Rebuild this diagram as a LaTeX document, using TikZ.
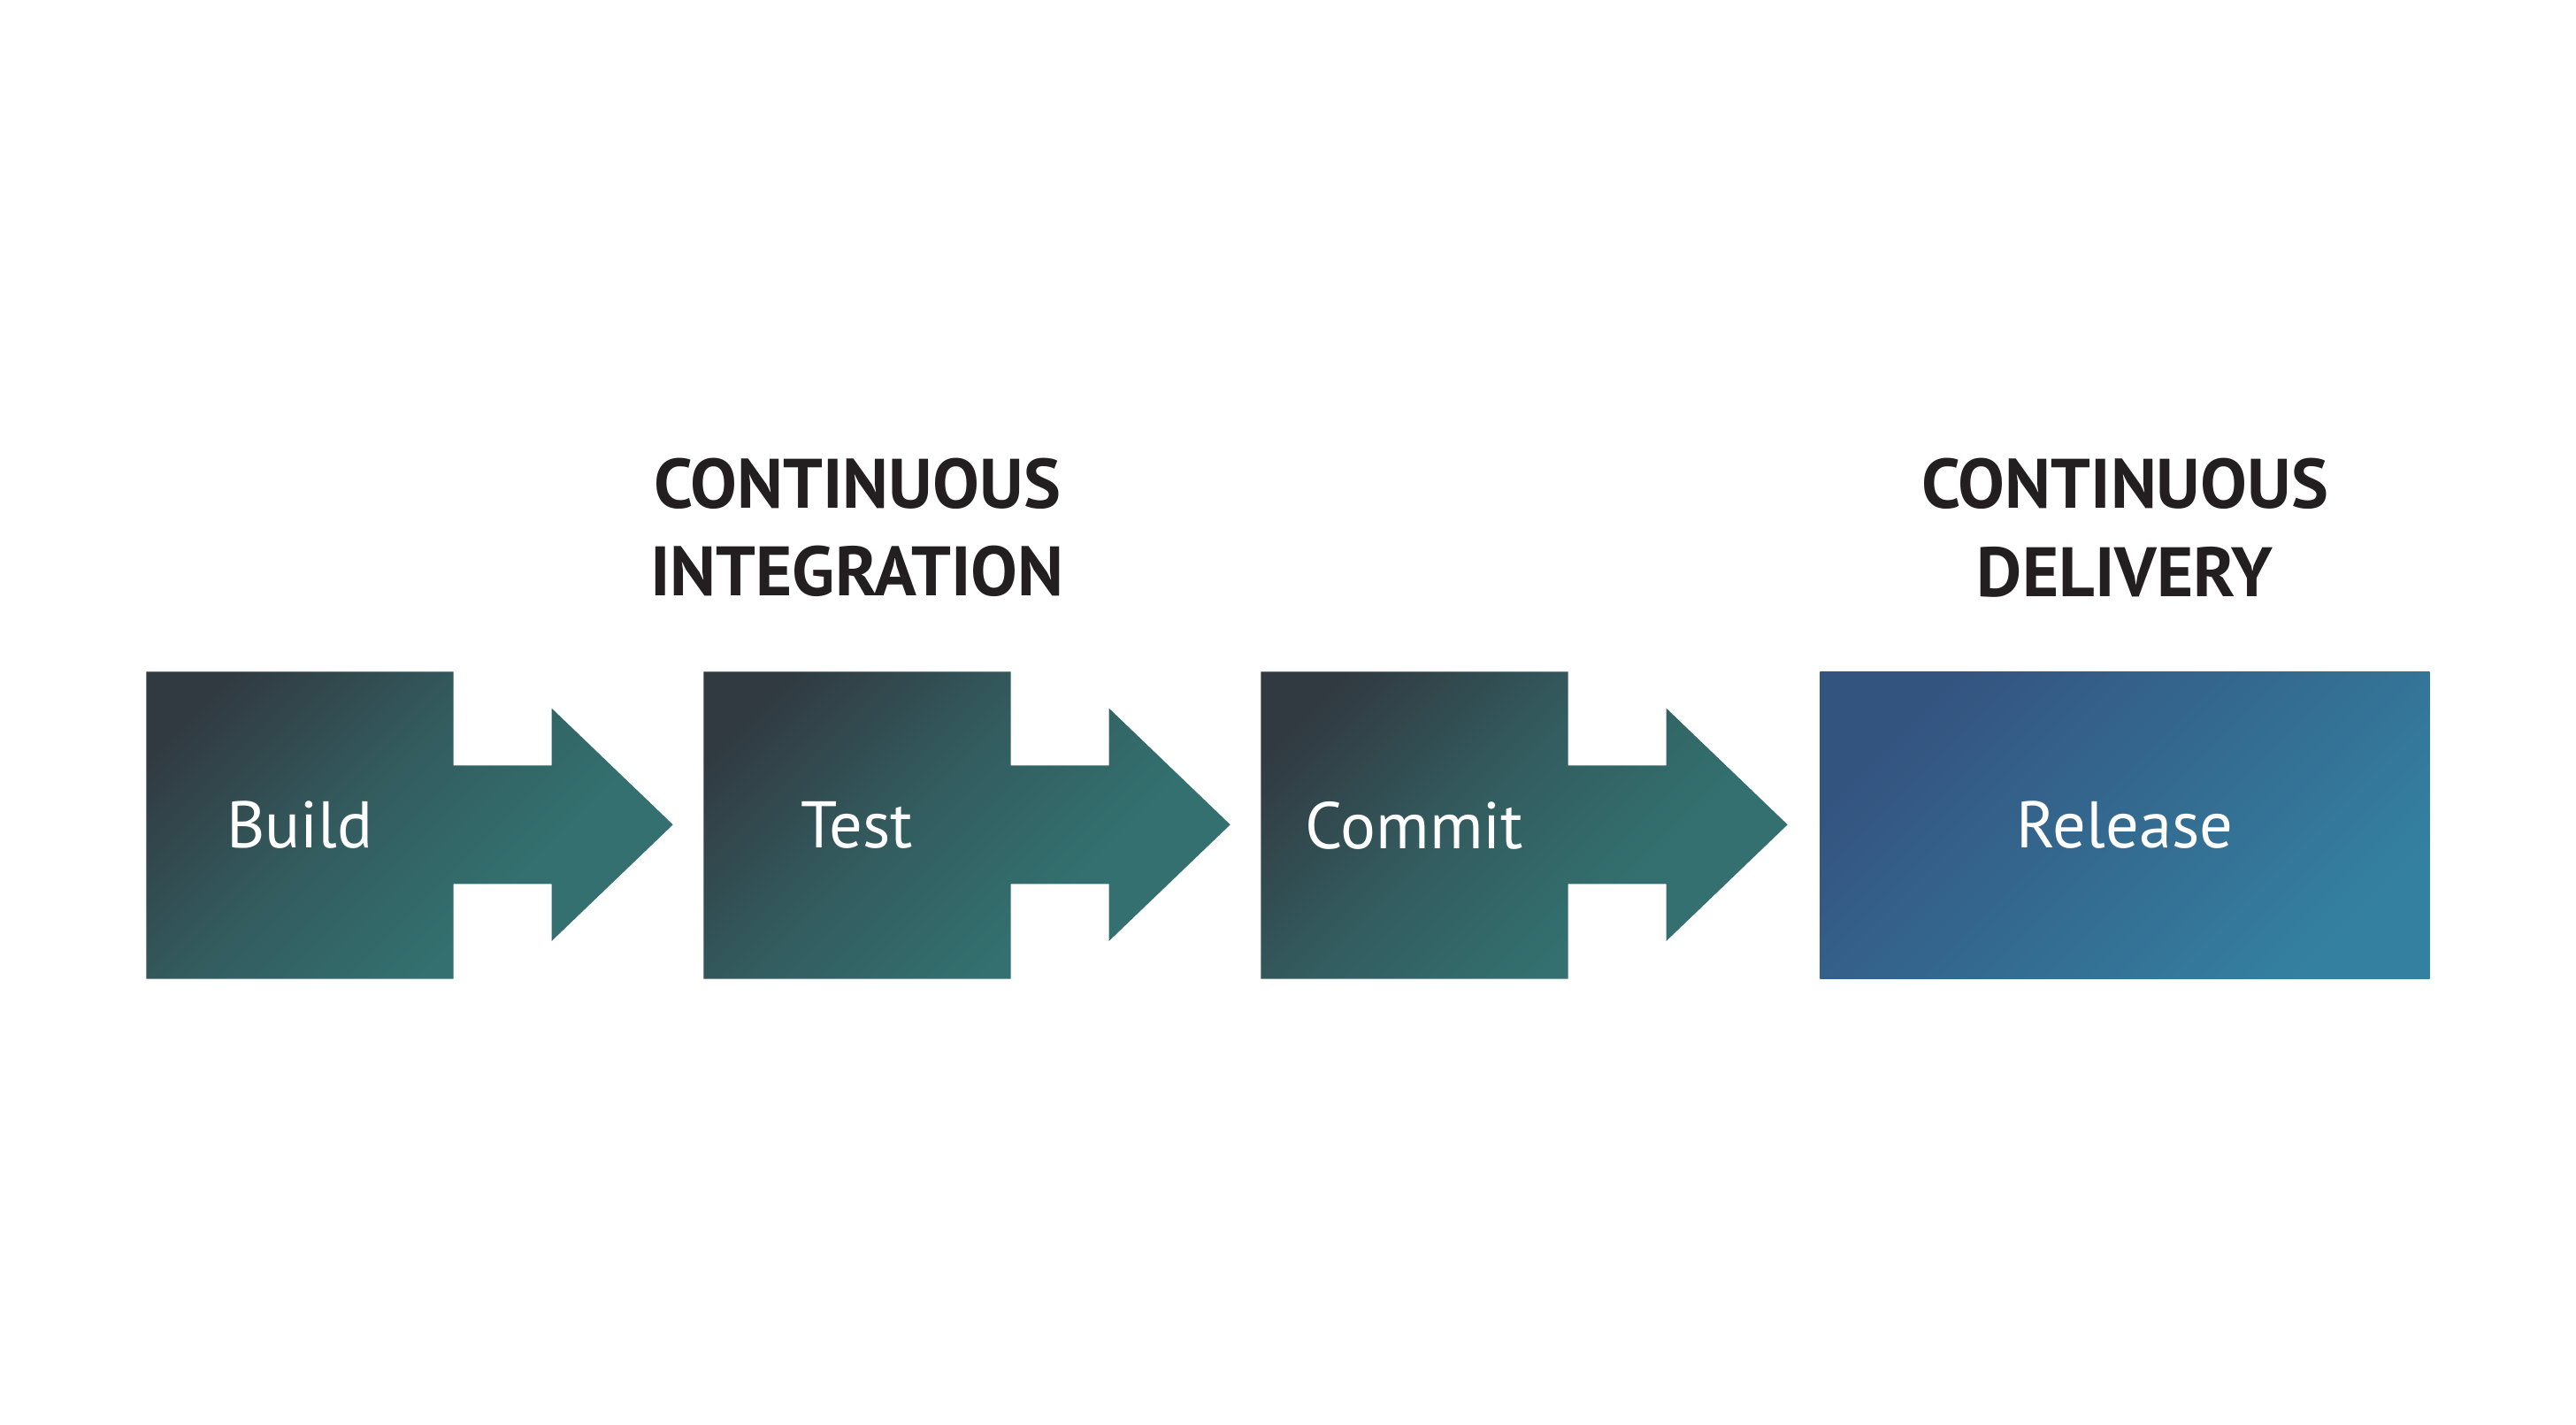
\documentclass[tikz,border=0pt]{standalone}
\usepackage{fontspec}
\setmainfont{PT Sans}
\usetikzlibrary{backgrounds}

\definecolor{stepdark}{RGB}{49,58,65}
\definecolor{stepmid}{RGB}{51,92,95}
\definecolor{stepteal}{RGB}{51,112,111}
\definecolor{reldark}{RGB}{52,84,128}
\definecolor{relblue}{RGB}{52,128,160}
\definecolor{headtext}{RGB}{35,31,32}

% dark only near the top left corner
\pgfdeclareverticalshading{stepfade}{100bp}{color(0bp)=(stepteal); color(25bp)=(stepteal);
  color(36bp)=(stepteal); color(56bp)=(stepmid); color(78bp)=(stepdark); color(100bp)=(stepdark)}

\tikzset{
  stepbox/.style={minimum width=3.46cm, minimum height=3.46cm, inner sep=0pt,
    text=white, font=\fontsize{21.2}{26}\selectfont},
  stepshade/.style={shading=stepfade, shading angle=45},
  relshade/.style={top color=reldark, bottom color=relblue, shading angle=45},
  heading/.style={align=center, text=headtext, font=\bfseries\fontsize{22.5}{28.35}\selectfont}
}

\begin{document}
\begin{tikzpicture}
\useasboundingbox (0,0) rectangle (29.12,16.10);

% steps
\node[stepbox] (build) at (3.39,6.77) {Build};
\node[stepbox] (test) at (9.69,6.77) {Test};
\node[stepbox] (commit) at (15.99,6.77) {Commit};
\node[stepbox, minimum width=6.88cm] (release) at (24.02,6.77) {Release};

% headings
\node[heading] (ci) at (9.69,10.135) {CONTINUOUS\\INTEGRATION};
\node[heading] (cd) at (24.02,10.135) {CONTINUOUS\\DELIVERY};

% shaded shapes behind the labels
\begin{scope}[on background layer]
\foreach \s in {build,test,commit}
  \shade[stepshade] (\s.north west) -- (\s.north east) -- ++(0,-1.06) -- ++(1.11,0)
    -- ++(0,0.645) -- ++(1.37,-1.315) -- ++(-1.37,-1.315) -- ++(0,0.645)
    -- ++(-1.11,0) -- (\s.south east) -- (\s.south west) -- cycle;
\shade[relshade] (release.north west) rectangle (release.south east);
\end{scope}
\end{tikzpicture}
\end{document}
